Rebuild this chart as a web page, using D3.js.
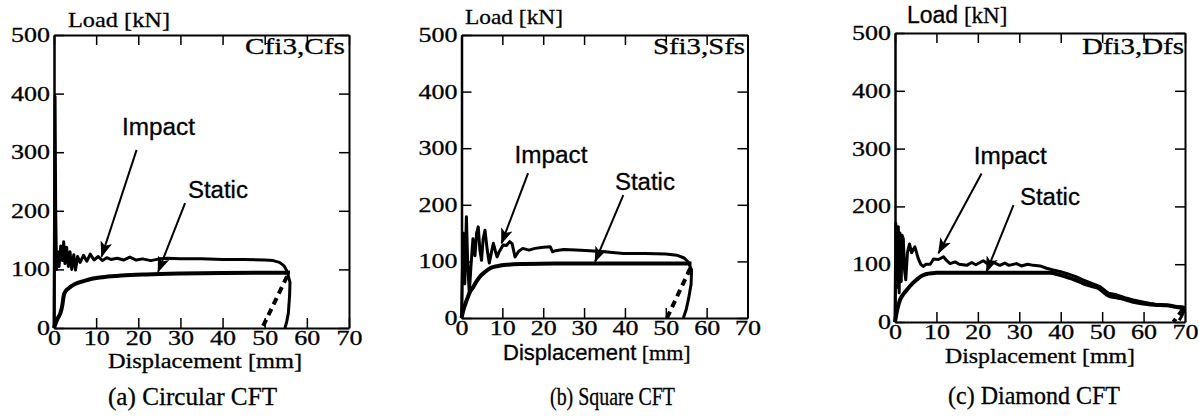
<!DOCTYPE html>
<html>
<head>
<meta charset="utf-8">
<script src="https://cdn.jsdelivr.net/npm/d3@7"></script>
<style>
  body { margin: 0; background: #fff; }
  svg { display: block; }
  text { stroke: #000; stroke-width: 0.3px; }
</style>
</head>
<body>
<svg id="chart" width="1199" height="419"></svg>
<script>
const SERIF = '"Liberation Serif", "Times New Roman", serif';
const SANS = '"Liberation Sans", Arial, sans-serif';

// axis ticks
const xTicks = [0, 10, 20, 30, 40, 50, 60, 70];
const yTicks = [0, 100, 200, 300, 400, 500];

const specimenNames = ['Cfi3,Cfs', 'Sfi3,Sfs', 'Dfi3,Dfs'];
const captions = ['(a) Circular CFT', '(b) Square CFT', '(c) Diamond CFT'];

// [displacement mm, load kN]
const impactA = [[0,0],[0.1,150],[0.25,395],[0.4,200],[0.6,100],[0.9,130],[1.2,105],[1.6,140],[2.0,115],[2.3,147],[2.6,110],[3.0,138],[3.4,105],[3.8,130],[4.2,100],[4.7,125],[5.1,99],[5.6,122],[6.2,112],[7,124],[7.8,114],[8.6,126],[9.5,116],[10.5,122],[11.5,115],[12.5,120],[13.5,117],[15,119],[16.5,116],[18,121],[19.5,116],[21,118],[23,115],[25,118],[27,119],[30,118],[35,118],[40,117],[45,117],[50,116],[52,115],[53.5,112],[54.6,106],[55.3,97],[56,78],[55.9,55],[55.6,25],[55.2,10],[54.8,0]];
const staticA = [[0,0],[0.5,10],[1,18],[1.5,25],[2,40],[2.3,55],[2.7,62],[3.5,68],[5,75],[7,80],[9,84],[12,87],[16,89.5],[22,91.5],[30,93],[40,94],[56,94.5]];
const unloadA = [[55.3,88],[49.4,0]];

const impactB = [[0,0],[0.4,150],[0.8,60],[1.2,179],[1.5,100],[1.9,44],[2.3,90],[2.8,140],[3.3,110],[3.7,150],[4.1,161],[4.5,120],[4.9,102],[5.3,140],[5.75,155],[6.3,120],[6.8,97],[7.3,115],[7.8,132],[8.3,118],[8.7,108],[9.3,118],[10.2,129],[11,128],[11.8,135],[12.4,131],[13.1,108],[14,118],[15,123],[16.5,120],[18,123],[20,125],[21.7,126],[22.3,117],[23,119],[25,121],[28,120],[31.4,119],[35,117],[39.6,114],[45,114],[50,113],[52.7,111],[54.5,106],[55.5,99],[56.3,85],[56.2,60],[55.6,35],[55,15],[54.3,0]];
const staticB = [[0,0],[0.5,15],[1.3,32],[2,45],[2.9,55],[3.7,65],[4.5,73],[5.5,80],[7,88],[9,92],[11,94],[15,95.5],[23,96.5],[40,96.5],[56.3,96.5]];
const unloadB = [[56,88],[50.3,0]];

const impactC = [[0,0],[0.2,171],[0.5,60],[0.8,165],[1.0,50],[1.2,154],[1.5,70],[1.7,150],[2.0,144],[2.3,90],[2.6,73],[3.0,120],[3.5,135],[4.0,120],[4.8,130],[5.6,110],[6.2,100],[6.8,96],[7.5,100],[8.5,100],[9.3,109],[10.5,108],[11.7,113],[12.5,106],[13.3,101],[14.5,104],[15.5,100],[17.3,98],[18.5,103],[19.5,99],[21.3,106],[22.5,100],[23.5,104],[25.3,98],[26.5,102],[27.5,98],[29.3,101],[30.5,97],[32,100],[33.4,98],[35,97],[36.6,93],[38.2,90],[40,87],[41.4,84],[43.5,79],[45.4,73],[47.5,67],[49.5,61],[51.5,50],[53.5,47],[55.5,42],[57.5,38],[59.5,35],[61.6,32],[63.5,30],[65.6,29],[67.5,27],[69.6,26],[69.8,20],[69.2,10],[68.6,3]];
const staticC = [[0,0],[0.5,20],[1.2,38],[2,48],[2.8,55],[4,65],[5.2,73],[6.5,80],[7.6,83],[9,84.5],[10,85],[20,85],[30,85],[37.4,85],[39.5,82],[41.4,78],[43.5,73],[45.4,67],[47.5,62],[49.5,57],[50.5,51],[51.5,46],[53,43],[54.7,41],[57.5,35],[60,32],[62.5,30],[65.6,29],[68,26],[70,24]];
const unloadC = [[69.5,22],[67.2,0]];

// annotation anchors, in data units: label position, arrow tail, arrow tip
const impactNotes = [
  { text: [24.8, 330], from: [19.6, 304], to: [11.3, 122] },
  { text: [21.9, 273], from: [16.3, 256], to: [9.8, 132] },
  { text: [27.8, 274], from: [20.9, 257], to: [10.5, 119] }
];
const staticNotes = [
  { text: [38.9, 221], from: [31.1, 213], to: [24.7, 96] },
  { text: [44.9, 227], from: [39.6, 217], to: [32.7, 99.5] },
  { text: [37.4, 203], from: [28.6, 202], to: [22.1, 87] }
];

const panels = [
  { left: 54, right: 349, top: 35, bottom: 328, impact: impactA, stat: staticA, unload: unloadA,
    loadY: 27, loadX: 68, loadW: 102, dispY: 368, dispX: 108, dispW: 194, capY: 405, capX: 108, capW: 169,
    nameY: 54, nameW: 100, nameRight: 345 },
  { left: 461.5, right: 747.5, top: 35, bottom: 318, impact: impactB, stat: staticB, unload: unloadB,
    loadY: 24, loadX: 465, loadW: 98, dispY: 360, dispX: 503, dispW: 204, capY: 405, capX: 550, capW: 125,
    nameY: 54, nameW: 92, nameRight: 745 },
  { left: 895, right: 1185, top: 33, bottom: 322, impact: impactC, stat: staticC, unload: unloadC,
    loadY: 23, loadX: 907, loadW: 103, dispY: 363, dispX: 945, dispW: 190, capY: 404, capX: 948, capW: 172,
    nameY: 54, nameW: 102, nameRight: 1184 }
];

const svg = d3.select('#chart');

svg.append('defs').append('marker')
  .attr('id', 'arrow')
  .attr('markerUnits', 'userSpaceOnUse')
  .attr('markerWidth', 16).attr('markerHeight', 12)
  .attr('refX', 15).attr('refY', 6)
  .attr('orient', 'auto')
  .append('path')
  .attr('d', 'M0,0 L16,6 L0,12 L4,6 Z')
  .attr('fill', '#000');

function styleTicks(sel, labels) {
  sel.select('.domain').attr('stroke', '#000').attr('stroke-width', 2);
  sel.selectAll('.tick line').attr('stroke', '#000').attr('stroke-width', 1.5);
  if (labels) {
    sel.selectAll('.tick text')
      .attr('font-family', SERIF)
      .attr('font-size', 20)
      .attr('fill', '#000')
      .attr('textLength', d => String(d).length * 13)
      .attr('lengthAdjust', 'spacingAndGlyphs');
  } else {
    sel.selectAll('.tick text').remove();
  }
}

panels.forEach((p, i) => {
  const x = d3.scaleLinear().domain([0, 70]).range([p.left, p.right]);
  const y = d3.scaleLinear().domain([0, 500]).range([p.bottom, p.top]);
  const g = svg.append('g');

  // frame with inward ticks on every side
  g.append('g').attr('transform', `translate(0,${p.bottom})`)
    .call(d3.axisBottom(x).tickValues(xTicks).tickSizeInner(-10).tickSizeOuter(0).tickPadding(3))
    .call(s => styleTicks(s, true));
  g.append('g').attr('transform', `translate(0,${p.top})`)
    .call(d3.axisTop(x).tickValues(xTicks).tickSizeInner(-10).tickSizeOuter(0))
    .call(s => styleTicks(s, false));
  g.append('g').attr('transform', `translate(${p.left},0)`)
    .call(d3.axisLeft(y).tickValues(yTicks).tickSizeInner(-10).tickSizeOuter(0).tickPadding(4))
    .call(s => styleTicks(s, true))
    .select('.domain').attr('stroke-width', 2.5);
  g.append('g').attr('transform', `translate(${p.right},0)`)
    .call(d3.axisRight(y).tickValues(yTicks).tickSizeInner(-10).tickSizeOuter(0))
    .call(s => styleTicks(s, false));

  const lineLin = d3.line().x(d => x(d[0])).y(d => y(d[1]));
  const lineSmooth = d3.line().x(d => x(d[0])).y(d => y(d[1])).curve(d3.curveMonotoneX);

  g.append('path').attr('d', lineSmooth(p.stat))
    .attr('fill', 'none').attr('stroke', '#000').attr('stroke-width', 4)
    .attr('stroke-linejoin', 'round');
  g.append('path').attr('d', lineLin(p.unload))
    .attr('fill', 'none').attr('stroke', '#000').attr('stroke-width', 4)
    .attr('stroke-dasharray', '7,5');
  g.append('path').attr('d', lineLin(p.impact))
    .attr('fill', 'none').attr('stroke', '#000').attr('stroke-width', 3)
    .attr('stroke-linejoin', 'round');

  // annotations
  [[impactNotes[i], 'Impact', 73], [staticNotes[i], 'Static', 60]].forEach(([n, label, w]) => {
    g.append('line')
      .attr('x1', x(n.from[0])).attr('y1', y(n.from[1]))
      .attr('x2', x(n.to[0])).attr('y2', y(n.to[1]))
      .attr('stroke', '#000').attr('stroke-width', 2)
      .attr('marker-end', 'url(#arrow)');
    g.append('text')
      .attr('x', x(n.text[0])).attr('y', y(n.text[1]))
      .attr('text-anchor', 'middle')
      .attr('font-family', SANS).attr('font-size', 23)
      .attr('textLength', w).attr('lengthAdjust', 'spacingAndGlyphs')
      .text(label);
  });

  // specimen name
  g.append('text')
    .attr('x', p.nameRight).attr('y', p.nameY)
    .attr('text-anchor', 'end')
    .attr('font-family', SERIF).attr('font-size', 24)
    .attr('textLength', p.nameW).attr('lengthAdjust', 'spacingAndGlyphs')
    .text(specimenNames[i]);

  // y label
  const load = g.append('text').attr('x', p.loadX).attr('y', p.loadY).attr('font-size', 22);
  if (i === 2) {
    load.append('tspan').attr('font-family', SANS).attr('font-size', 23).text('Load');
    load.append('tspan').attr('font-family', SERIF).attr('font-size', 23).text(' [kN]');
  } else {
    load.attr('font-family', SERIF)
      .attr('textLength', p.loadW).attr('lengthAdjust', 'spacingAndGlyphs')
      .text('Load [kN]');
  }

  // x label
  const disp = g.append('text').attr('x', p.dispX).attr('y', p.dispY);
  if (i === 1) {
    disp.append('tspan').attr('font-family', SANS).attr('font-size', 22).text('Displacement');
    disp.append('tspan').attr('font-family', SERIF).attr('font-size', 22).text(' [mm]');
  } else {
    disp.attr('font-family', SERIF).attr('font-size', 20)
      .attr('textLength', p.dispW).attr('lengthAdjust', 'spacingAndGlyphs')
      .text('Displacement [mm]');
  }

  // caption
  g.append('text')
    .attr('x', p.capX).attr('y', p.capY)
    .attr('font-family', SERIF).attr('font-size', 25)
    .attr('textLength', p.capW).attr('lengthAdjust', 'spacingAndGlyphs')
    .text(captions[i]);
});
</script>
</body>
</html>
